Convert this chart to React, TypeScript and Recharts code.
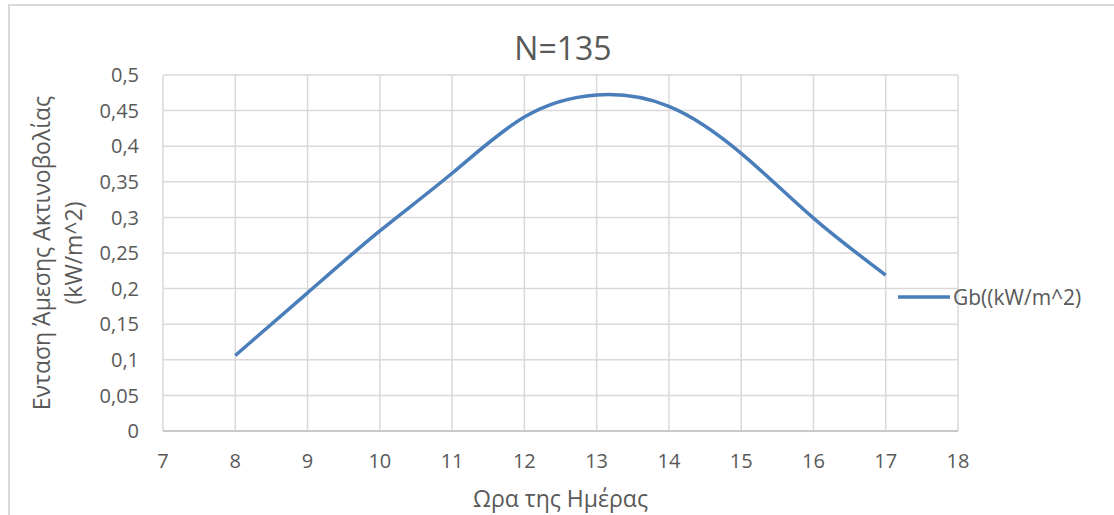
import { LineChart, Line, XAxis, YAxis, CartesianGrid, Legend } from 'recharts';

const hours = [8, 9, 10, 11, 12, 13, 14, 15, 16, 17];
const gb = [0.106, 0.194, 0.281, 0.362, 0.441, 0.472, 0.456, 0.39, 0.299, 0.219];
const xTicks = [7, 8, 9, 10, 11, 12, 13, 14, 15, 16, 17, 18];
const yTicks = [0, 0.05, 0.1, 0.15, 0.2, 0.25, 0.3, 0.35, 0.4, 0.45, 0.5];

const chartTitle = 'N=135';
const seriesName = 'Gb((kW/m^2)';
const xTitle = 'Ωρα της Ημέρας';
const yTitleLines = ['Ενταση Άμεσης  Ακτινοβολίας', '(kW/m^2)'];

const TEXT = '#595959';
const GRID = '#d9d9d9';
const BLUE = '#4a7ebb';
const FONT = '"Open Sans", sans-serif';

const chartData = hours.map((h, i) => ({ hour: h, gb: gb[i] }));

const fmtComma = (v: number) => String(v).replace('.', ',');

// two-line rotated title on the left
const YTitle = ({ viewBox }: any) => {
  const cy = viewBox.y + viewBox.height / 2;
  return (
    <g>
      {yTitleLines.map((line, i) => {
        const bx = 50 + i * 32;
        return (
          <text
            key={i}
            x={bx}
            y={cy}
            transform={`rotate(-90, ${bx}, ${cy})`}
            textAnchor="middle"
            fill={TEXT}
            fontSize={23}
            fontFamily={FONT}
          >
            {line}
          </text>
        );
      })}
    </g>
  );
};

const LegendBox = () => (
  <div style={{ display: 'flex', alignItems: 'center', fontFamily: FONT, fontSize: 21, color: TEXT, whiteSpace: 'nowrap' }}>
    <svg width={58} height={6}>
      <line x1={3} y1={3} x2={55} y2={3} stroke={BLUE} strokeWidth={3.5} />
    </svg>
    <span>{seriesName}</span>
  </div>
);

export default function App() {
  return (
    <div style={{ position: 'absolute', left: 0, top: 0, width: 1114, height: 515, overflow: 'hidden', background: '#fff' }}>
      <div
        style={{
          position: 'absolute',
          left: 8,
          top: 4,
          width: 1200,
          height: 600,
          border: `2px solid ${GRID}`,
        }}
      />
      <div
        style={{
          position: 'absolute',
          left: 0,
          width: 1126,
          top: 26,
          textAlign: 'center',
          fontFamily: FONT,
          fontSize: 32,
          color: TEXT,
          lineHeight: '44px',
        }}
      >
        {chartTitle}
      </div>
      <div style={{ position: 'absolute', left: 0, top: 0 }}>
        <LineChart width={1114} height={515} data={chartData} margin={{ top: 75, right: 156, bottom: 54, left: 103 }}>
          <CartesianGrid stroke={GRID} strokeWidth={1.5} />
          <XAxis
            dataKey="hour"
            type="number"
            domain={[7, 18]}
            ticks={xTicks}
            interval={0}
            height={30}
            tickLine={false}
            tickSize={6}
            tickMargin={17}
            stroke="#bfbfbf"
            strokeWidth={1.5}
            tick={{ fill: TEXT, fontSize: 20, fontFamily: FONT }}
            label={{ value: xTitle, position: 'bottom', offset: 30, fill: TEXT, fontSize: 23, fontFamily: FONT }}
          />
          <YAxis
            type="number"
            domain={[0, 0.5]}
            ticks={yTicks}
            interval={0}
            width={60}
            tickLine={false}
            tickSize={6}
            tickMargin={18}
            axisLine={false}
            tickFormatter={fmtComma}
            tick={{ fill: TEXT, fontSize: 20, fontFamily: FONT }}
            label={{ content: YTitle }}
          />
          <Legend
            layout="horizontal"
            verticalAlign="middle"
            align="center"
            content={() => <LegendBox />}
            wrapperStyle={{ position: 'absolute', left: 895, top: 283, width: 'auto' }}
          />
          <Line
            type="natural"
            dataKey="gb"
            name={seriesName}
            stroke={BLUE}
            strokeWidth={3.5}
            dot={false}
            activeDot={false}
            isAnimationActive={false}
          />
        </LineChart>
      </div>
    </div>
  );
}
